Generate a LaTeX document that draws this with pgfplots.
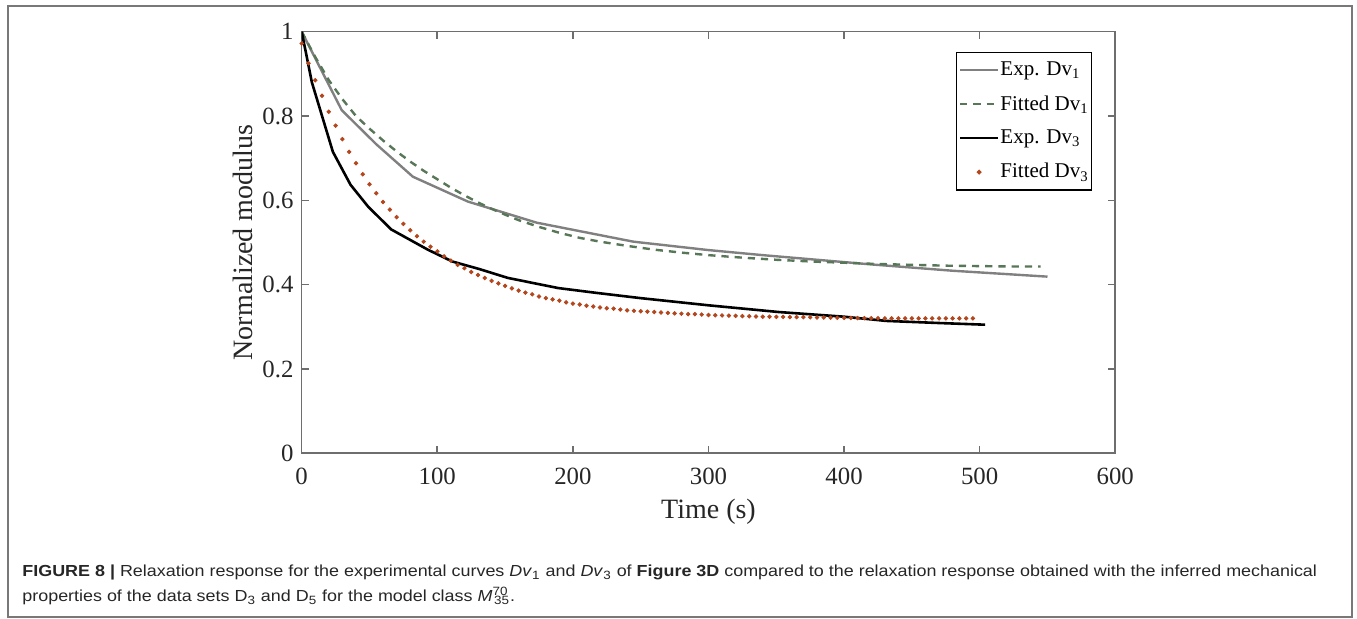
\documentclass[border=0pt]{standalone}
\usepackage{fontspec}
\setmainfont{Liberation Serif}
\newfontfamily\capfont[FakeStretch=1.12]{Liberation Sans}
\usepackage{pgfplots}
\pgfplotsset{compat=1.18}
\definecolor{expgray}{RGB}{128,128,128}
\definecolor{fitgreen}{RGB}{88,118,88}
\definecolor{fitorange}{RGB}{180,70,30}
\definecolor{axgray}{RGB}{110,110,110}
\definecolor{framegray}{RGB}{120,120,120}
\definecolor{txt}{RGB}{38,38,38}
\newcommand{\tkf}{\fontsize{12.4}{14}\selectfont}
\newcommand{\lbf}{\fontsize{14}{16}\selectfont}
\begin{document}
\begin{tikzpicture}[x=1pt,y=1pt]
\useasboundingbox (-150.85,-82.85) rectangle (527.65,226.65);
\draw[framegray,line width=0.7pt] (-146.85,-81.85) rectangle (525.15,223.65);
\begin{axis}[
  at={(0,0)}, anchor=south west,
  scale only axis, width=406.8pt, height=210.8pt,
  xmin=0, xmax=600, ymin=0, ymax=1,
  xtick={0,100,...,600}, ytick={0,0.2,0.4,0.6,0.8,1},
  xticklabel={\tkf\pgfmathprintnumber[assume math mode=true]{\tick}},
  yticklabel={\tkf\pgfmathprintnumber[assume math mode=true]{\tick}},
  tick align=inside, major tick length=3.5pt,
  axis line style={axgray,line width=0.8pt},
  every tick/.style={axgray,line width=0.8pt},
  every tick label/.append style={text=txt},
  xticklabel style={anchor=base, yshift=-15.85pt},
  yticklabel style={xshift=-0.6pt},
  xlabel={\lbf Time (s)}, ylabel={\lbf Normalized modulus},
  every axis x label/.style={at={(axis description cs:0.5,-0.1542)}, anchor=base, text=txt},
  every axis y label/.style={at={(axis description cs:-0.0599,0.5)}, rotate=90, anchor=base, text=txt},
  legend style={at={(1,1)}, anchor=north east, xshift=-11.5pt, yshift=-10.3pt,
    draw=black, line width=0.6pt, font=\fontsize{10.5}{12}\selectfont,
    inner xsep=1pt, inner ysep=3pt, row sep=5.4pt,
    nodes={inner xsep=0.5pt, inner ysep=1.5pt}},
  legend cell align=left,
  legend image code/.code={\draw[mark repeat=2,mark phase=2,#1] plot coordinates {(0pt,0pt) (9.5pt,0pt) (19pt,0pt)};},
]
\addplot[expgray, line width=1.2pt] coordinates {
(0,1.000) (29.5,0.814) (55,0.733) (82,0.656) (122.6,0.597) (173.3,0.547)
(244.5,0.502) (300,0.482) (340,0.470) (420,0.448) (480,0.433) (550,0.419)};
\addlegendentry{Exp. Dv\textsubscript{1}}
\addplot[fitgreen, line width=1.2pt, dash pattern=on 3.6pt off 3pt] coordinates {
(0,1.000) (10,0.940) (20,0.885) (30,0.840) (40,0.800) (50,0.770) (60,0.742)
(70,0.716) (80,0.692) (90,0.670) (100,0.650) (110,0.630) (120,0.612) (130,0.595)
(140,0.580) (150,0.566) (160,0.553) (175,0.537) (190,0.523) (205,0.511) (220,0.502)
(240,0.492) (260,0.483) (280,0.476) (300,0.470) (325,0.464) (350,0.459) (375,0.455)
(400,0.452) (425,0.449) (450,0.447) (475,0.445) (500,0.444) (525,0.443) (545,0.443)};
\addlegendentry{Fitted Dv\textsubscript{1}}
\addplot[black, line width=1.3pt] coordinates {
(0,1.000) (7.5,0.880) (23,0.715) (36,0.637) (49,0.585) (66,0.531) (93,0.483)
(111,0.455) (131,0.437) (152,0.416) (189,0.392) (216,0.381) (250,0.368) (300,0.351)
(352,0.335) (400,0.324) (431,0.314) (470,0.309) (504,0.305)};
\addlegendentry{Exp. Dv\textsubscript{3}}
\addplot[only marks, mark=*, mark size=0.9pt, fitorange] coordinates {
(0,0.972) (5,0.925) (10,0.885) (15,0.848) (20,0.810) (25,0.777) (30,0.745) (35,0.715)
(40,0.688) (45,0.662) (50,0.638) (55,0.617) (60,0.596) (65,0.578) (70,0.560) (75,0.544)
(80,0.529) (85,0.515) (90,0.502) (95,0.490) (100,0.479) (105,0.467) (110,0.457) (115,0.447)
(120,0.439) (125,0.430) (130,0.423) (135,0.416) (140,0.409) (145,0.403) (150,0.397)
(155,0.391) (160,0.386) (165,0.381) (170,0.377) (175,0.372) (180,0.368) (185,0.365)
(190,0.362) (195,0.358) (200,0.355) (205,0.353) (210,0.350) (215,0.348) (220,0.346)
(225,0.344) (230,0.343) (235,0.341) (240,0.339) (245,0.338) (250,0.337) (255,0.336)
(260,0.335) (265,0.334) (270,0.333) (275,0.332) (280,0.331) (285,0.330) (290,0.330)
(295,0.329) (300,0.328) (305,0.3275) (310,0.327) (315,0.3265) (320,0.326) (325,0.3255)
(330,0.325) (335,0.3245) (340,0.324) (345,0.324) (350,0.3235) (355,0.3235) (360,0.323)
(365,0.323) (370,0.3228) (375,0.3225) (380,0.3222) (385,0.322) (390,0.3218) (395,0.3215)
(400,0.3212) (405,0.321) (410,0.3208) (415,0.3206) (420,0.3204) (425,0.3202) (430,0.320)
(435,0.320) (440,0.320) (445,0.320) (450,0.320) (455,0.320) (460,0.320) (465,0.320)
(470,0.320) (475,0.320) (480,0.320) (485,0.320) (490,0.320) (495,0.320)};
\addlegendentry{Fitted Dv\textsubscript{3}}
\end{axis}
\node[anchor=base west, inner sep=0, font=\capfont\fontsize{8}{10}\selectfont, text=txt] at (-139.85,-61.7)
 {\textbf{FIGURE 8 |} Relaxation response for the experimental curves \textit{Dv}\textsubscript{1} and \textit{Dv}\textsubscript{3} of \textbf{Figure 3D} compared to the relaxation response obtained with the inferred mechanical};
\node[anchor=base west, inner sep=0, font=\capfont\fontsize{8}{10}\selectfont, text=txt] at (-139.85,-74)
 {properties of the data sets D\textsubscript{3} and D\textsubscript{5} for the model class \textit{M}\textsuperscript{70}\kern-0.9em\textsubscript{35}.};
\end{tikzpicture}
\end{document}
